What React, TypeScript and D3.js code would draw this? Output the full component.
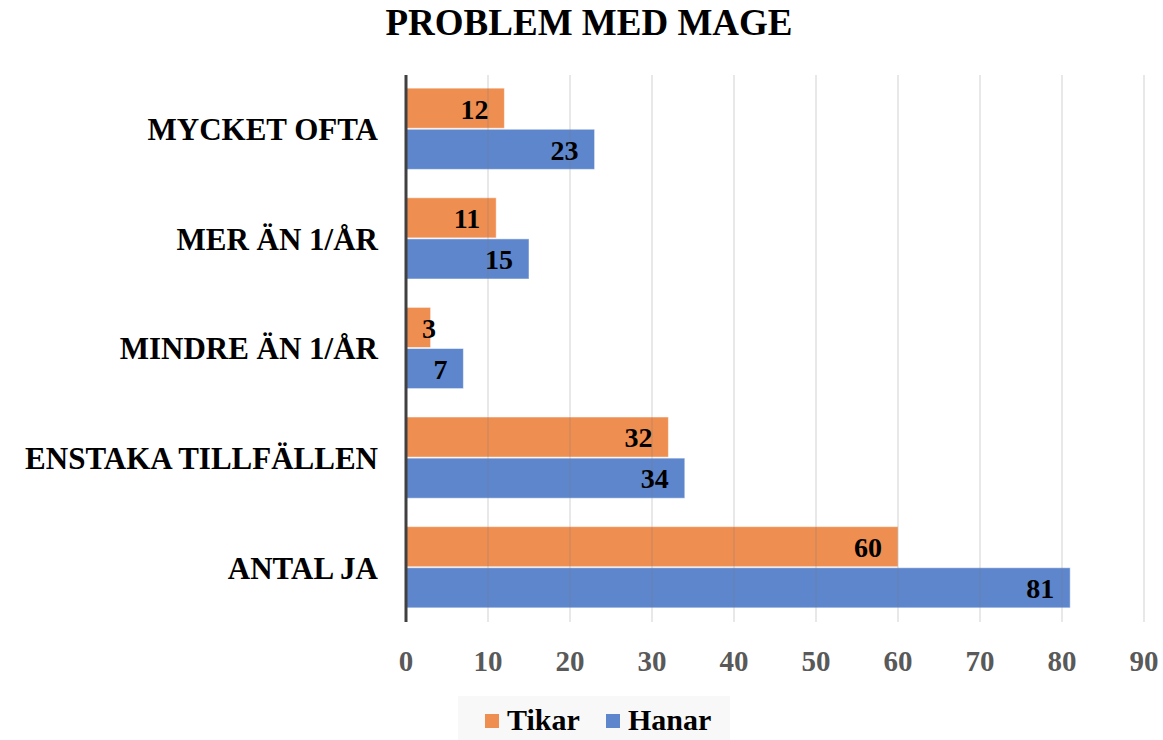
import React from "react";
import * as d3 from "d3";

const categories = ["MYCKET OFTA", "MER ÄN 1/ÅR", "MINDRE ÄN 1/ÅR", "ENSTAKA TILLFÄLLEN", "ANTAL JA"];
const tikar = [12, 11, 3, 32, 60];
const hanar = [23, 15, 7, 34, 81];
const seriesNames = ["Tikar", "Hanar"];
const seriesColors = ["#EF8E51", "#5D86CC"];
const xTicks = [0, 10, 20, 30, 40, 50, 60, 70, 80, 90];

const width = 1163;
const height = 740;
const font = "'Liberation Serif', 'DejaVu Serif', serif";

const App = () => {
  const left = 406;
  const right = 1144;
  const top = 75;
  const bottom = 622;

  const x = d3.scaleLinear().domain([0, 90]).range([left, right]);
  const y = d3.scaleBand().domain(categories).range([top, bottom]).paddingInner(0.25).paddingOuter(0.12);
  const inner = d3.scaleBand().domain(seriesNames).range([0, y.bandwidth()]);

  const series = [tikar, hanar];

  // label right edge: inside end, but never starting before the axis
  const labelX = (v: number) => Math.max(x(v) - 16, left + 16 + 14 * String(v).length);

  return (
    <svg width={width} height={height} style={{ position: "absolute", left: 0, top: 0, background: "#fff" }}>
      <text x={589} y={35} textAnchor="middle" fontFamily={font} fontWeight="bold" fontSize={37} fill="#000">
        PROBLEM MED MAGE
      </text>

      {series.map((vals, si) =>
        vals.map((v, i) => (
          <rect
            key={`${si}-${i}`}
            x={x(0)}
            y={(y(categories[i]) ?? 0) + (inner(seriesNames[si]) ?? 0)}
            width={x(v) - x(0)}
            height={inner.bandwidth() - 1}
            fill={seriesColors[si]}
            stroke="#fff"
            strokeOpacity={0.5}
            strokeWidth={1}
          />
        ))
      )}

      {xTicks.slice(1).map((t) => (
        <line key={t} x1={x(t)} x2={x(t)} y1={top} y2={bottom} stroke="#777" strokeOpacity={0.35} strokeWidth={1} />
      ))}

      <line x1={x(0)} x2={x(0)} y1={top} y2={bottom} stroke="#404040" strokeWidth={3} />

      {series.map((vals, si) =>
        vals.map((v, i) => (
          <text
            key={`l${si}-${i}`}
            x={labelX(v)}
            y={(y(categories[i]) ?? 0) + (inner(seriesNames[si]) ?? 0) + inner.bandwidth() / 2}
            dy="0.35em"
            textAnchor="end"
            fontFamily={font}
            fontWeight="bold"
            fontSize={28}
            fill="#000"
          >
            {v}
          </text>
        ))
      )}

      {categories.map((c) => (
        <text
          key={c}
          x={378}
          y={(y(c) ?? 0) + y.bandwidth() / 2}
          dy="0.35em"
          textAnchor="end"
          fontFamily={font}
          fontWeight="bold"
          fontSize={31}
          fill="#000"
        >
          {c}
        </text>
      ))}

      {xTicks.map((t) => (
        <text key={t} x={x(t)} y={671} textAnchor="middle" fontFamily={font} fontWeight="bold" fontSize={29} fill="#595959">
          {t}
        </text>
      ))}

      <rect x={458} y={696} width={272} height={44} fill="#f8f8f8" />
      {seriesNames.map((n, i) => {
        const lx = i === 0 ? 485 : 606;
        return (
          <g key={n}>
            <rect x={lx} y={714} width={14} height={14} fill={seriesColors[i]} />
            <text x={lx + 22} y={730} fontFamily={font} fontWeight="bold" fontSize={30} fill="#000">
              {n}
            </text>
          </g>
        );
      })}
    </svg>
  );
};

export default App;
